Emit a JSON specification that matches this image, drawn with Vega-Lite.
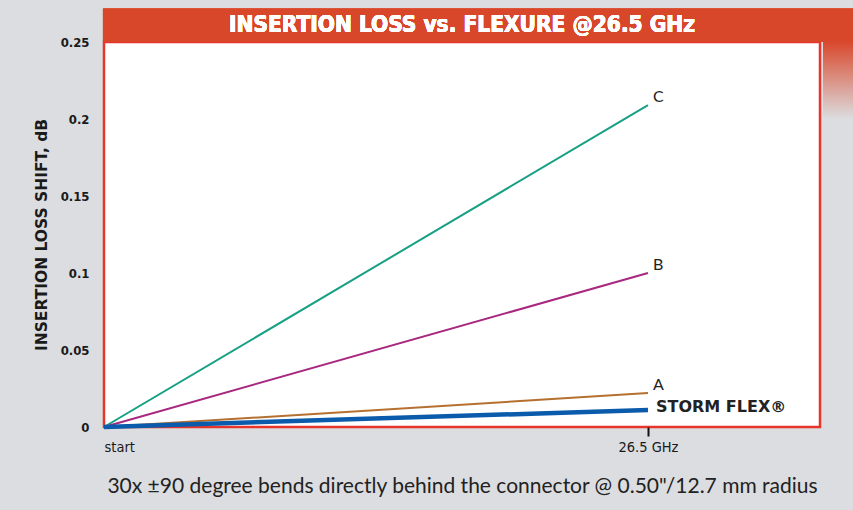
{
  "$schema": "https://vega.github.io/schema/vega-lite/v6.json",
  "autosize": {"type": "none"},
  "padding": {"left": 104, "top": 42, "right": 33, "bottom": 83},
  "width": 716,
  "height": 385,
  "background": "#dcdde0",
  "config": {
    "view": {"fill": "#ffffff", "stroke": "#e8352b", "strokeWidth": 2.5}
  },
  "data": {
    "values": [
      {"series": "C", "x": 0, "y": 0, "label": "C"},
      {"series": "C", "x": 26.5, "y": 0.209, "label": "C"},
      {"series": "B", "x": 0, "y": 0, "label": "B"},
      {"series": "B", "x": 26.5, "y": 0.1, "label": "B"},
      {"series": "A", "x": 0, "y": 0, "label": "A"},
      {"series": "A", "x": 26.5, "y": 0.022, "label": "A"},
      {"series": "STORM FLEX", "x": 0, "y": 0, "label": "STORM FLEX®"},
      {"series": "STORM FLEX", "x": 26.5, "y": 0.011, "label": "STORM FLEX®"}
    ]
  },
  "layer": [
    {
      "mark": {"type": "rect", "color": "#d9472b", "clip": false},
      "encoding": {
        "x": {"datum": -0.05, "type": "quantitative", "scale": {"domain": [0, 34.88], "nice": false}},
        "x2": {"datum": 36.6},
        "y": {"datum": 0.2503, "type": "quantitative", "scale": {"domain": [0, 0.25], "nice": false}},
        "y2": {"datum": 0.2716}
      }
    },
    {
      "mark": {
        "type": "rect",
        "clip": false,
        "color": {
          "gradient": "linear",
          "x1": 0, "y1": 0, "x2": 0, "y2": 1,
          "stops": [
            {"offset": 0, "color": "#d9472b"},
            {"offset": 1, "color": "#dcdde0"}
          ]
        }
      },
      "encoding": {
        "x": {"datum": 35.05, "type": "quantitative", "scale": {"domain": [0, 34.88], "nice": false}},
        "x2": {"datum": 36.6},
        "y": {"datum": 0.2505, "type": "quantitative", "scale": {"domain": [0, 0.25], "nice": false}},
        "y2": {"datum": 0.2}
      }
    },
    {
      "mark": {
        "type": "text",
        "clip": false,
        "text": "INSERTION LOSS vs. FLEXURE @26.5 GHz",
        "color": "#ffffff",
        "font": "'DejaVu Sans Condensed', 'Liberation Sans Narrow', sans-serif",
        "fontWeight": "bold",
        "fontSize": 22.5,
        "align": "center",
        "baseline": "middle"
      },
      "encoding": {
        "x": {"datum": 17.44, "type": "quantitative", "scale": {"domain": [0, 34.88], "nice": false}},
        "y": {"datum": 0.2612, "type": "quantitative", "scale": {"domain": [0, 0.25], "nice": false}}
      }
    },
    {
      "mark": {"type": "line", "clip": false},
      "encoding": {
        "x": {
          "field": "x",
          "type": "quantitative",
          "scale": {"domain": [0, 34.88], "nice": false},
          "axis": {
            "values": [0, 26.5],
            "labelExpr": "datum.value == 0 ? 'start' : '26.5 GHz'",
            "labelAlign": {"condition": {"test": "datum.value == 0", "value": "left"}, "value": "center"},
            "labelFont": "'DejaVu Sans Condensed', 'Liberation Sans Narrow', sans-serif",
            "labelFontSize": 14.5,
            "labelColor": "#1a1a1a",
            "labelPadding": 4,
            "domain": false,
            "grid": false,
            "tickSize": 9,
            "tickWidth": 2,
            "tickColor": {"condition": {"test": "datum.value == 0", "value": "transparent"}, "value": "#111111"},
            "title": "30x ±90 degree bends directly behind the connector @ 0.50\"/12.7 mm radius",
            "titleFont": "Lato, sans-serif",
            "titleFontWeight": "normal",
            "titleFontSize": 21,
            "titleColor": "#222222",
            "titlePadding": 22
          }
        },
        "y": {
          "field": "y",
          "type": "quantitative",
          "scale": {"domain": [0, 0.25], "nice": false},
          "axis": {
            "values": [0, 0.05, 0.1, 0.15, 0.2, 0.25],
            "format": "~g",
            "labelFont": "'DejaVu Sans Condensed', 'Liberation Sans Narrow', sans-serif",
            "labelFontWeight": "bold",
            "labelFontSize": 13,
            "labelColor": "#1a1a1a",
            "labelPadding": 15,
            "domain": false,
            "ticks": false,
            "gridColor": {"condition": {"test": "datum.value == 0 || datum.value == 0.25", "value": "transparent"}, "value": "#9a9a9a"},
            "gridWidth": 2,
            "gridOpacity": 1,
            "title": "INSERTION LOSS SHIFT, dB",
            "titleFont": "'DejaVu Sans', sans-serif",
            "titleFontWeight": "bold",
            "titleFontSize": 15.5,
            "titleColor": "#1a1a1a",
            "titlePadding": 11
          }
        },
        "color": {
          "field": "series",
          "type": "nominal",
          "scale": {
            "domain": ["C", "B", "A", "STORM FLEX"],
            "range": ["#17a084", "#a8287f", "#b5702f", "#0a5bab"]
          },
          "legend": null
        },
        "strokeWidth": {
          "condition": {"test": "datum.series == 'STORM FLEX'", "value": 4.5},
          "value": 2
        }
      }
    },
    {
      "transform": [{"filter": "datum.x > 0 && datum.series != 'STORM FLEX'"}],
      "mark": {"type": "text", "align": "left", "baseline": "middle", "dx": 5, "dy": -8, "font": "Lato, sans-serif", "fontSize": 16, "color": "#222222"},
      "encoding": {
        "x": {"field": "x", "type": "quantitative", "scale": {"domain": [0, 34.88], "nice": false}},
        "y": {"field": "y", "type": "quantitative", "scale": {"domain": [0, 0.25], "nice": false}},
        "text": {"field": "label"}
      }
    },
    {
      "transform": [{"filter": "datum.x > 0 && datum.series == 'STORM FLEX'"}],
      "mark": {"type": "text", "align": "left", "baseline": "middle", "dx": 8, "dy": -3, "font": "'DejaVu Sans', sans-serif", "fontWeight": "bold", "fontSize": 16, "color": "#222222"},
      "encoding": {
        "x": {"field": "x", "type": "quantitative", "scale": {"domain": [0, 34.88], "nice": false}},
        "y": {"field": "y", "type": "quantitative", "scale": {"domain": [0, 0.25], "nice": false}},
        "text": {"field": "label"}
      }
    }
  ]
}
